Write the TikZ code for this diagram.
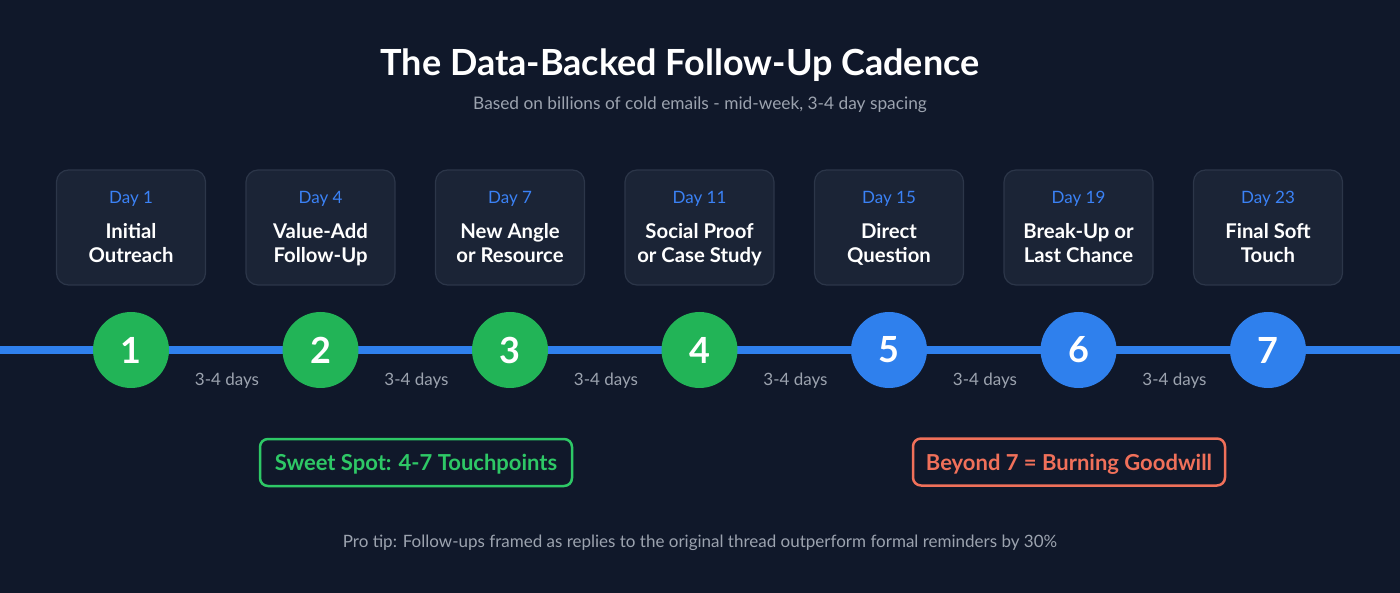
\documentclass[tikz,border=0pt]{standalone}
\usepackage{fontspec}
\setmainfont{Lato}
\definecolor{bgnavy}{HTML}{10182A}
\definecolor{cardfill}{HTML}{1B2436}
\definecolor{cardline}{HTML}{2C3649}
\definecolor{dayblue}{HTML}{3B82F6}
\definecolor{tlblue}{HTML}{2F80ED}
\definecolor{stepgreen}{HTML}{22B457}
\definecolor{okgreen}{HTML}{2EC866}
\definecolor{warnred}{HTML}{F0705A}
\definecolor{softgray}{HTML}{9CA3AF}

\begin{document}
\begin{tikzpicture}[line cap=round,line join=round,x=1pt,y=-1pt,
	card/.style={draw=cardline,fill=cardfill,line width=1.2pt,rounded corners=12pt,minimum width=149pt,minimum height=115pt},
	daylbl/.style={anchor=base,text=dayblue,font=\fontsize{17}{20}\selectfont},
	steplbl/.style={text=white,align=center,font=\fontsize{20.3}{24}\selectfont\bfseries},
	greendot/.style={circle,fill=stepgreen,minimum size=76pt,inner sep=0pt,text=white,font=\fontsize{36}{40}\selectfont\bfseries},
	bluedot/.style={circle,fill=tlblue,minimum size=76pt,inner sep=0pt,text=white,font=\fontsize{36}{40}\selectfont\bfseries},
	gaplbl/.style={anchor=base,text=softgray,font=\fontsize{17}{20}\selectfont},
	notebox/.style={draw,line width=2.5pt,rounded corners=8pt,minimum width=312pt,minimum height=47pt,text height=16pt,text depth=0pt,font=\fontsize{22}{26}\selectfont\bfseries}]
		\useasboundingbox (0,0) rectangle (1400,593);
		\fill[bgnavy] (0,0) rectangle (1400,593);
		\node[text=white,font=\fontsize{36}{40}\selectfont\bfseries] (title) at (680,65) {The Data-Backed Follow-Up Cadence};
		\node[text=softgray,font=\fontsize{17.3}{20}\selectfont] (subtitle) at (700,105) {Based on billions of cold emails - mid-week, 3-4 day spacing};
		\node[card] (c1) at (131,227.5) {};
		\node[card] (c2) at (320.5,227.5) {};
		\node[card] (c3) at (510,227.5) {};
		\node[card] (c4) at (699.5,227.5) {};
		\node[card] (c5) at (889,227.5) {};
		\node[card] (c6) at (1078.5,227.5) {};
		\node[card] (c7) at (1268,227.5) {};
		\node[daylbl] (d1) at (131,204) {Day 1};
		\node[daylbl] (d2) at (320.5,204) {Day 4};
		\node[daylbl] (d3) at (510,204) {Day 7};
		\node[daylbl] (d4) at (699.5,204) {Day 11};
		\node[daylbl] (d5) at (889,204) {Day 15};
		\node[daylbl] (d6) at (1078.5,204) {Day 19};
		\node[daylbl] (d7) at (1268,204) {Day 23};
		\node[steplbl] (s1) at (131,246) {\strut Initial\\\strut Outreach};
		\node[steplbl] (s2) at (320.5,246) {\strut Value-Add\\\strut Follow-Up};
		\node[steplbl] (s3) at (510,246) {\strut New Angle\\\strut or Resource};
		\node[steplbl] (s4) at (699.5,246) {\strut Social Proof\\\strut or Case Study};
		\node[steplbl] (s5) at (889,246) {\strut Direct\\\strut Question};
		\node[steplbl] (s6) at (1078.5,246) {\strut Break-Up or\\\strut Last Chance};
		\node[steplbl] (s7) at (1268,246) {\strut Final Soft\\\strut Touch};
		\coordinate (tlstart) at (0,350);
		\coordinate (tlend) at (1400,350);
		\draw[line width=8pt,line cap=butt,tlblue] (tlstart)-- (tlend);
		\node[greendot] (n1) at (131,350) {1};
		\node[greendot] (n2) at (320.5,350) {2};
		\node[greendot] (n3) at (510,350) {3};
		\node[greendot] (n4) at (699.5,350) {4};
		\node[bluedot] (n5) at (889,350) {5};
		\node[bluedot] (n6) at (1078.5,350) {6};
		\node[bluedot] (n7) at (1268,350) {7};
		\node[gaplbl] (g1) at (227,385) {3-4 days};
		\node[gaplbl] (g2) at (416.5,385) {3-4 days};
		\node[gaplbl] (g3) at (606,385) {3-4 days};
		\node[gaplbl] (g4) at (795.5,385) {3-4 days};
		\node[gaplbl] (g5) at (985,385) {3-4 days};
		\node[gaplbl] (g6) at (1174.5,385) {3-4 days};
		\node[notebox,draw=okgreen,text=okgreen] (sweet) at (416,462.5) {Sweet Spot: 4-7 Touchpoints};
		\node[notebox,draw=warnred,text=warnred] (beyond) at (1069,462) {Beyond 7 = Burning Goodwill};
		\node[text=softgray,font=\fontsize{17}{20}\selectfont] (protip) at (700,543) {Pro tip: Follow-ups framed as replies to the original thread outperform formal reminders by 30\%};
	\end{tikzpicture}
\end{document}
